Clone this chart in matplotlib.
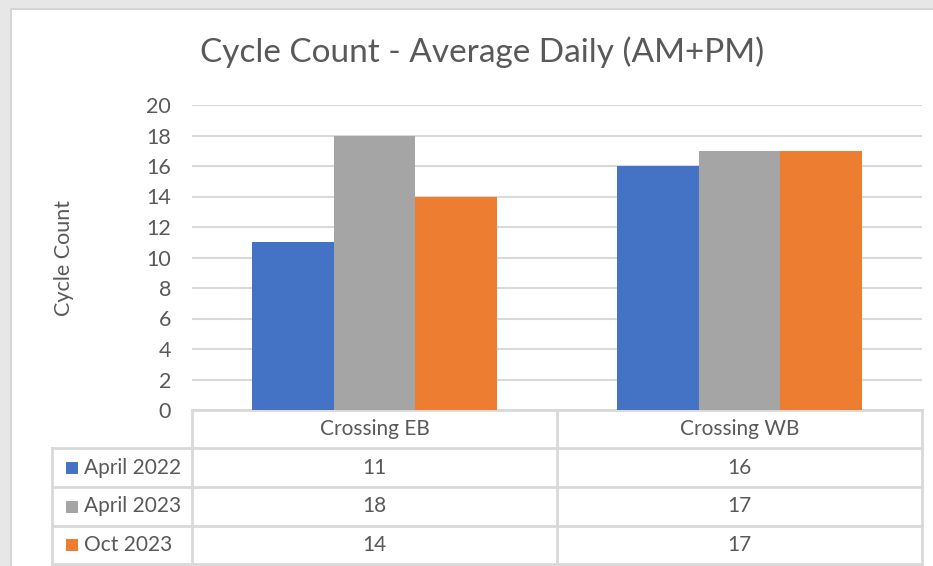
import numpy as np
import matplotlib.pyplot as plt
from matplotlib.patches import Rectangle

plt.rcParams['font.family'] = ['Lato', 'DejaVu Sans']

# Data
categories = ['Crossing EB', 'Crossing WB']
series_names = ['April 2022', 'April 2023', 'Oct 2023']
april_2022 = [11, 16]
april_2023 = [18, 17]
oct_2023 = [14, 17]
y_ticks = [0, 2, 4, 6, 8, 10, 12, 14, 16, 18, 20]

series = [april_2022, april_2023, oct_2023]
colors = ['#4472C4', '#A5A5A5', '#ED7D31']
text_color = '#595959'
grid_color = '#D9D9D9'

W, H = 933, 566
fig = plt.figure(figsize=(W / 100, H / 100), dpi=100)


def fx(x):
    return x / W


def fy(y):
    # pixel row from top -> figure fraction
    return 1 - y / H


# outer frame look (grey border at the top and left)
fig.patches.append(Rectangle((0, 0), 1, 1, transform=fig.transFigure,
                             facecolor='#E7E7E7', edgecolor='none', zorder=-3))
fig.patches.append(Rectangle((fx(10), 0), 1, fy(8), transform=fig.transFigure,
                             facecolor='#D6D6D6', edgecolor='none', zorder=-2))
fig.patches.append(Rectangle((fx(12), 0), 1, fy(10), transform=fig.transFigure,
                             facecolor='white', edgecolor='none', zorder=-1))

# plot area
left, right, top, bottom = 192, 922, 105, 410
ax = fig.add_axes([fx(left), fy(bottom), fx(right - left), fy(top) - fy(bottom)])
ax.set_facecolor('none')

x = np.arange(len(categories))
width = 0.223
for i, (vals, c) in enumerate(zip(series, colors)):
    ax.bar(x + (i - 1) * width, vals, width, color=c, zorder=3)

ax.set_xlim(-0.5, len(categories) - 0.5)
ax.set_ylim(0, 20)
ax.set_yticks(y_ticks)
ax.set_yticklabels([str(t) for t in y_ticks], fontsize=15.5, color=text_color)
ax.tick_params(axis='y', length=0, pad=15)
ax.set_xticks([])
ax.grid(axis='y', color=grid_color, linewidth=1.5, zorder=0)
for s in ['top', 'right', 'left']:
    ax.spines[s].set_visible(False)
ax.spines['bottom'].set_color(grid_color)
ax.spines['bottom'].set_linewidth(2)

ax.set_ylabel('Cycle Count', fontsize=15.5, color=text_color, labelpad=52)

fig.text(fx(482), fy(52), 'Cycle Count - Average Daily (AM+PM)', fontsize=24,
         color=text_color, ha='center', va='center')

# data table under the axis
tbl_left = 52
col_edges = [left, (left + right) / 2, right]
row_edges = [bottom, 448, 487, 526, 564]
lw = 2

def hline(y, x0, x1):
    fig.add_artist(plt.Line2D([fx(x0), fx(x1)], [fy(y), fy(y)], color=grid_color,
                              linewidth=lw, transform=fig.transFigure))

def vline(x_, y0, y1):
    fig.add_artist(plt.Line2D([fx(x_), fx(x_)], [fy(y0), fy(y1)], color=grid_color,
                              linewidth=lw, transform=fig.transFigure))

for ce in col_edges:
    vline(ce, row_edges[0], row_edges[-1])
vline(tbl_left, row_edges[1], row_edges[-1])
for re in row_edges[1:]:
    hline(re, tbl_left, right)

col_centers = [(col_edges[j] + col_edges[j + 1]) / 2 for j in range(len(categories))]
hdr_y = (row_edges[0] + row_edges[1]) / 2
for cx, cat in zip(col_centers, categories):
    fig.text(fx(cx), fy(hdr_y), cat, fontsize=15, color=text_color,
             ha='center', va='center')

for r, (name, vals, c) in enumerate(zip(series_names, series, colors)):
    ry = (row_edges[r + 1] + row_edges[r + 2]) / 2
    fig.patches.append(Rectangle((fx(66), fy(ry + 6)), fx(12), fy(0) - fy(12),
                                 transform=fig.transFigure, facecolor=c,
                                 edgecolor='none'))
    fig.text(fx(84), fy(ry), name, fontsize=15, color=text_color,
             ha='left', va='center')
    for cx, v in zip(col_centers, vals):
        fig.text(fx(cx), fy(ry), str(v), fontsize=15, color=text_color,
                 ha='center', va='center')

fig.savefig('out.png', dpi=100)
